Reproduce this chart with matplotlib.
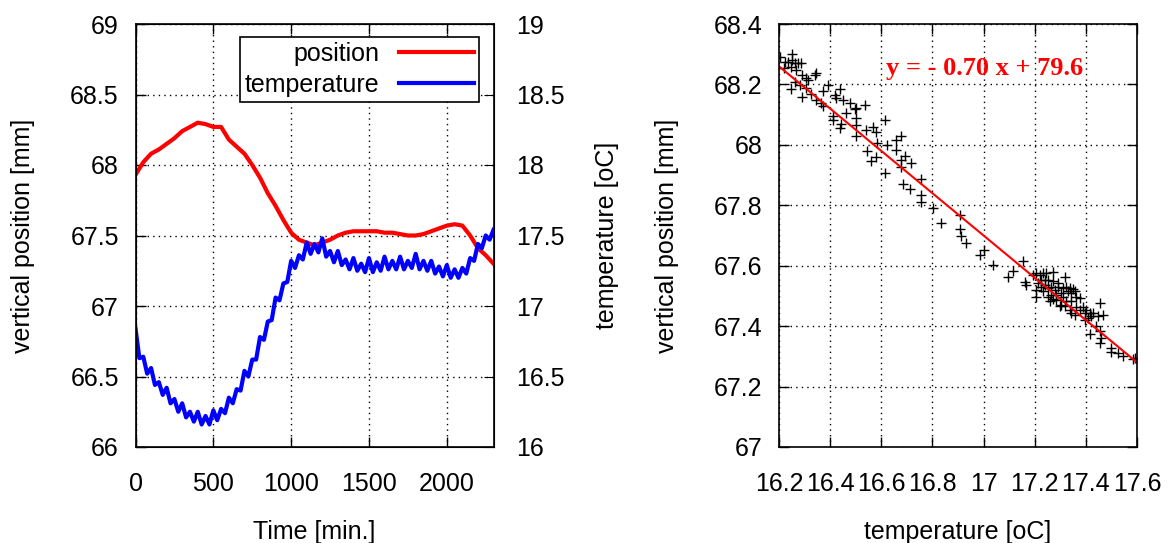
import numpy as np
import matplotlib
matplotlib.use('Agg')
import matplotlib.pyplot as plt

plt.rcParams['font.family'] = ['Liberation Sans', 'DejaVu Sans']
plt.rcParams['font.size'] = 18

# left panel: position / temperature over time
time_pos = [0, 50, 100, 150, 200, 250, 300, 350, 400, 450, 500, 550, 600, 650,
            700, 750, 800, 850, 900, 950, 1000, 1050, 1100, 1150, 1200, 1250,
            1300, 1350, 1400, 1450, 1500, 1550, 1600, 1650, 1700, 1750, 1800,
            1850, 1900, 1950, 2000, 2050, 2100, 2150, 2200, 2250, 2300]
position = [67.93, 68.02, 68.08, 68.11, 68.15, 68.19, 68.24, 68.27, 68.30, 68.29,
            68.27, 68.27, 68.18, 68.13, 68.08, 68.00, 67.91, 67.80, 67.71, 67.61,
            67.52, 67.47, 67.45, 67.43, 67.45, 67.47, 67.50, 67.52, 67.53, 67.53,
            67.53, 67.53, 67.52, 67.52, 67.51, 67.50, 67.50, 67.51, 67.53, 67.55,
            67.57, 67.58, 67.57, 67.50, 67.41, 67.36, 67.30]

time_temp = list(range(0, 2301, 25))
temperature = [16.84, 16.63, 16.64, 16.52, 16.56, 16.44, 16.46, 16.37, 16.42, 16.31,
               16.34, 16.25, 16.31, 16.21, 16.25, 16.18, 16.25, 16.16, 16.22, 16.16,
               16.26, 16.19, 16.27, 16.24, 16.35, 16.31, 16.41, 16.40, 16.54, 16.50,
               16.62, 16.62, 16.78, 16.76, 16.89, 16.90, 17.06, 17.04, 17.16, 17.17,
               17.32, 17.27, 17.36, 17.33, 17.45, 17.37, 17.44, 17.38, 17.48, 17.35,
               17.39, 17.31, 17.39, 17.29, 17.33, 17.26, 17.34, 17.25, 17.30, 17.24,
               17.34, 17.24, 17.31, 17.25, 17.35, 17.26, 17.32, 17.26, 17.35, 17.26,
               17.32, 17.27, 17.37, 17.26, 17.32, 17.25, 17.32, 17.23, 17.28, 17.21,
               17.29, 17.20, 17.26, 17.20, 17.27, 17.23, 17.34, 17.32, 17.44, 17.41,
               17.50, 17.47, 17.54]

# right panel: position vs temperature scatter
scatter_temp = [16.203, 16.222, 16.235, 16.252, 16.252, 16.261, 16.274, 16.287, 16.22, 16.248,
                16.268, 16.291, 16.261, 16.281, 16.307, 16.313, 16.339, 16.346, 16.307, 16.248,
                16.290, 16.326, 16.346, 16.366, 16.372, 16.392, 16.372, 16.418, 16.424, 16.440,
                16.450, 16.476, 16.463, 16.496, 16.502, 16.411, 16.411, 16.444, 16.437, 16.502,
                16.500, 16.538, 16.542, 16.500, 16.568, 16.581, 16.585, 16.613, 16.622, 16.544,
                16.578, 16.561, 16.613, 16.656, 16.659, 16.676, 16.678, 16.691, 16.717, 16.678,
                16.685, 16.711, 16.757, 16.757, 16.757, 16.802, 16.835, 16.906, 16.906, 16.913,
                16.933, 16.985, 17.000, 17.037, 17.097, 17.115, 17.154, 17.161, 17.167, 17.206,
                17.206, 17.193, 17.206, 17.219, 17.232, 17.245, 17.271, 17.213, 17.226, 17.239,
                17.252, 17.265, 17.278, 17.291, 17.317, 17.311, 17.324, 17.337, 17.350, 17.356,
                17.343, 17.330, 17.304, 17.284, 17.265, 17.252, 17.232, 17.271, 17.258, 17.284,
                17.311, 17.304, 17.317, 17.337, 17.343, 17.356, 17.363, 17.376, 17.389, 17.395,
                17.402, 17.395, 17.408, 17.415, 17.421, 17.428, 17.454, 17.447, 17.467, 17.441,
                17.454, 17.415, 17.460, 17.454, 17.500, 17.500, 17.526, 17.546, 17.584, 17.591,
                17.298, 17.343, 17.324, 17.363, 17.376, 17.252, 17.239, 17.226, 17.271, 17.291]
scatter_pos = [68.292, 68.275, 68.275, 68.300, 68.281, 68.270, 68.270, 68.270, 68.253, 68.259,
               68.248, 68.231, 68.209, 68.198, 68.220, 68.215, 68.231, 68.237, 68.187, 68.185,
               68.160, 68.168, 68.149, 68.138, 68.127, 68.198, 68.178, 68.165, 68.154, 68.185,
               68.149, 68.138, 68.105, 68.118, 68.121, 68.094, 68.083, 68.069, 68.055, 68.090,
               68.066, 68.132, 68.049, 68.030, 68.060, 68.041, 68.005, 68.083, 68.000, 67.980,
               67.961, 67.945, 67.908, 67.983, 68.016, 68.030, 67.950, 67.963, 67.939, 67.928,
               67.871, 67.853, 67.886, 67.834, 67.812, 67.790, 67.741, 67.768, 67.721, 67.697,
               67.675, 67.636, 67.653, 67.601, 67.562, 67.581, 67.617, 67.546, 67.537, 67.498,
               67.520, 67.570, 67.575, 67.570, 67.575, 67.575, 67.578, 67.542, 67.531, 67.537,
               67.526, 67.531, 67.520, 67.531, 67.562, 67.526, 67.531, 67.526, 67.522, 67.515,
               67.509, 67.515, 67.509, 67.504, 67.504, 67.498, 67.515, 67.489, 67.482, 67.487,
               67.498, 67.471, 67.467, 67.454, 67.443, 67.438, 67.465, 67.454, 67.465, 67.443,
               67.454, 67.421, 67.427, 67.443, 67.433, 67.443, 67.478, 67.433, 67.438, 67.399,
               67.383, 67.375, 67.361, 67.344, 67.327, 67.316, 67.312, 67.302, 67.290, 67.295,
               67.467, 67.482, 67.482, 67.498, 67.493, 67.553, 67.553, 67.553, 67.548, 67.542]

fit_slope = -0.70
fit_intercept = 79.6
fit_range = [16.2, 17.6]

grid_style = dict(color='black', linestyle=(0, (1, 3)), linewidth=1)


def style_axes(ax):
    ax.tick_params(direction='in', length=7, width=1, top=True)
    for sp in ax.spines.values():
        sp.set_linewidth(1.2)
    ax.grid(True, **grid_style)


fig = plt.figure(figsize=(11.7, 5.43), dpi=100)

# ---- left: time series with twin axis
ax1 = fig.add_axes([135.5 / 1170, 96 / 543, 358 / 1170, 423 / 543])
l1, = ax1.plot(time_pos, position, color='red', lw=3, label='position')
ax1.set_xlim(0, 2300)
ax1.set_ylim(66, 69)
ax1.set_xticks([0, 500, 1000, 1500, 2000])
ax1.set_yticks([66, 66.5, 67, 67.5, 68, 68.5, 69])
ax1.set_yticklabels(['66', '66.5', '67', '67.5', '68', '68.5', '69'])
style_axes(ax1)
ax1.tick_params(axis='y', right=False, pad=12)
ax1.tick_params(axis='x', pad=18)
ax1.set_xlabel('Time [min.]', labelpad=17)
ax1.set_ylabel('vertical position [mm]', labelpad=25)

ax2 = ax1.twinx()
l2, = ax2.plot(time_temp, temperature, color='blue', lw=3, label='temperature')
ax2.set_ylim(16, 19)
ax2.set_yticks([16, 16.5, 17, 17.5, 18, 18.5, 19])
ax2.set_yticklabels(['16', '16.5', '17', '17.5', '18', '18.5', '19'])
ax2.tick_params(axis='y', direction='in', length=7, pad=16)
ax2.set_ylabel('temperature [oC]', labelpad=22)
leg = ax2.legend(handles=[l1, l2], loc='upper right', bbox_to_anchor=(0.96, 0.97),
                 borderaxespad=0, markerfirst=False, fancybox=False,
                 edgecolor='black', framealpha=1, handlelength=3,
                 handletextpad=0.8, borderpad=0.2, labelspacing=0.3)
leg.get_frame().set_linewidth(1.2)

# ---- right: scatter with linear fit
ax3 = fig.add_axes([779 / 1170, 96 / 543, 358 / 1170, 423 / 543])
ax3.plot(scatter_temp, scatter_pos, '+', color='black', ms=7, mew=1)
fit_x = np.array(fit_range)
ax3.plot(fit_x, fit_slope * fit_x + fit_intercept, color='red', lw=1.5)
ax3.set_xlim(16.2, 17.6)
ax3.set_ylim(67, 68.4)
xt = [16.2, 16.4, 16.6, 16.8, 17.0, 17.2, 17.4, 17.6]
ax3.set_xticks(xt)
ax3.set_xticklabels(['16.2', '16.4', '16.6', '16.8', '17', '17.2', '17.4', '17.6'])
yt = [67.0, 67.2, 67.4, 67.6, 67.8, 68.0, 68.2, 68.4]
ax3.set_yticks(yt)
ax3.set_yticklabels(['67', '67.2', '67.4', '67.6', '67.8', '68', '68.2', '68.4'])
style_axes(ax3)
ax3.tick_params(right=True)
ax3.tick_params(axis='y', pad=12)
ax3.tick_params(axis='x', pad=18)
ax3.set_xlabel('temperature [oC]', labelpad=17)
ax3.set_ylabel('vertical position [mm]', labelpad=25)
ax3.text(16.62, 68.254, 'y = - %.2f x + %.1f' % (-fit_slope, fit_intercept),
         color='red', fontsize=19, fontweight='bold',
         family=['Liberation Serif', 'DejaVu Serif'], ha='left', va='center')

fig.savefig('out.png', dpi=100)
